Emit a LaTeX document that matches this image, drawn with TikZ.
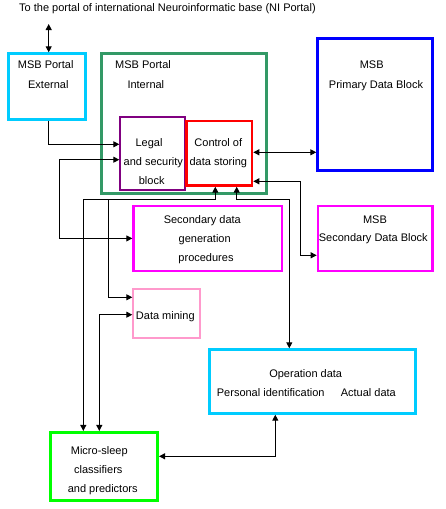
\documentclass[tikz,border=0pt]{standalone}
\usepackage{fontspec}
\setmainfont{Liberation Sans}
\usetikzlibrary{arrows.meta}
\definecolor{cyanb}{HTML}{00CCFF}
\definecolor{greenb}{HTML}{339966}
\definecolor{purpleb}{HTML}{800080}
\definecolor{redb}{HTML}{FF0000}
\definecolor{blueb}{HTML}{0000FF}
\definecolor{magb}{HTML}{FF00FF}
\definecolor{pinkb}{HTML}{FF99CC}
\definecolor{limeb}{HTML}{00FF00}
\begin{document}
\begin{tikzpicture}[x=1pt,y=-1pt,
  box/.style={draw, inner sep=0pt, line width=3pt},
  txt/.style={anchor=base, inner sep=0pt, font=\fontsize{11}{13}\selectfont},
  arr/.style={line width=1pt, -{Triangle[length=6pt,width=6pt]}},
  dbl/.style={line width=1pt, {Triangle[length=6pt,width=6pt]}-{Triangle[length=6pt,width=6pt]}}]
\useasboundingbox[fill=white] (0,0) rectangle (445,509);

% boxes
\node[box, draw=cyanb, minimum width=77pt, minimum height=65.4pt] (ext) at (47.3,86.5) {};
\node[box, draw=greenb, minimum width=164.7pt, minimum height=139.7pt] (int) at (183.8,123.7) {};
\node[box, draw=purpleb, line width=2pt, minimum width=65pt, minimum height=72.7pt] (legal) at (152.8,153.7) {};
\node[box, draw=redb, line width=2.5pt, minimum width=65.5pt, minimum height=64.5pt] (ctrl) at (219.3,153.2) {};
\node[box, draw=blueb, minimum width=115pt, minimum height=131.4pt] (prim) at (375.3,104.5) {};
\node[box, draw=magb, line width=2.5pt, minimum width=148.5pt, minimum height=64.8pt] (sdg) at (207.8,238.4) {};
\node[box, draw=magb, line width=2.5pt, minimum width=114.7pt, minimum height=64.6pt] (sdb) at (375.3,238.5) {};
\node[box, draw=pinkb, line width=2pt, minimum width=66.4pt, minimum height=48.4pt] (dm) at (166.5,313.5) {};
\node[box, draw=cyanb, minimum width=206.3pt, minimum height=63.4pt] (op) at (312.3,381.5) {};
\node[box, draw=limeb, minimum width=106.7pt, minimum height=67.7pt] (micro) at (104.2,466.3) {};

% texts
\node[txt, anchor=base west] (tnip) at (19,11) {To the portal of international Neuroinformatic base (NI Portal)};
\node[txt] (t1) at (45.7,68) {MSB Portal};
\node[txt] (t2) at (48.3,88) {External};
\node[txt, anchor=base west] (t3) at (115,68) {MSB Portal};
\node[txt, anchor=base west] (t4) at (127.3,88) {Internal};
\node[txt] (t5) at (149,146.3) {Legal};
\node[txt] (t6) at (153.3,165.3) {and security};
\node[txt] (t7) at (151.7,184) {block};
\node[txt] (t8) at (218.3,146.3) {Control of};
\node[txt] (t9) at (218.3,165.3) {data storing};
\node[txt] (t10) at (371.7,68) {MSB};
\node[txt] (t11) at (376,88) {Primary Data Block};
\node[txt] (t12) at (375,223) {MSB};
\node[txt] (t13) at (373.3,241.7) {Secondary Data Block};
\node[txt] (t14) at (202.3,223.3) {Secondary data};
\node[txt] (t15) at (204.7,242.3) {generation};
\node[txt] (t16) at (206,261.3) {procedures};
\node[txt] (t17) at (165.3,319) {Data mining};
\node[txt] (t18) at (305.7,377.3) {Operation data};
\node[txt] (t19) at (270.7,396.3) {Personal identification};
\node[txt] (t20) at (368.3,396.3) {Actual data};
\node[txt] (t21) at (99.3,454) {Micro-sleep};
\node[txt] (t22) at (98.3,473) {classifiers};
\node[txt] (t23) at (102.7,492) {and predictors};

% connectors
\coordinate (nip) at (48.7,24);
\coordinate (j1) at (108.3,199.3);
\draw[dbl] (nip) -- (nip |- ext.north);
\draw[arr] ([xshift=1.4pt]ext.south) |- ([yshift=9.4pt]legal.west);
\draw[dbl] ([yshift=-6pt]legal.west) -- ++(-60,0) |- (sdg.west);
\draw[dbl] ([xshift=-4pt]ctrl.south) -- ++(0,12.6) -| ([xshift=-20.9pt]micro.north);
\draw[arr] (j1) |- ([yshift=16.2pt]dm.west);
\draw[dbl] ([yshift=-1.2pt]dm.west) -| ([xshift=-4.9pt]micro.north);
\draw[dbl] ([xshift=17.4pt]ctrl.south) -- ++(0,12.6) -| ([xshift=-23pt]op.north);
\draw[dbl] ([yshift=0.9pt]ctrl.east) -- ([yshift=0.9pt]ctrl.east -| prim.west);
\draw[dbl] ([yshift=-28.1pt]ctrl.east) -- ++(47,0) |- ([yshift=-16.8pt]sdb.west);
\draw[dbl] ([yshift=10pt]micro.east) -| ([xshift=-37pt]op.south);
\end{tikzpicture}
\end{document}
